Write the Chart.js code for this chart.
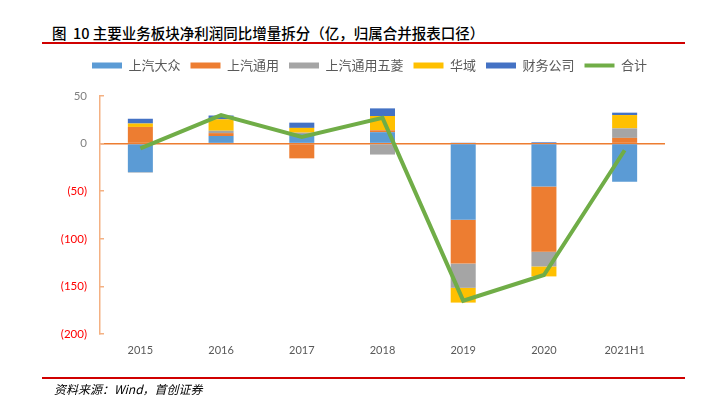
<!DOCTYPE html>
<html>
<head>
<meta charset="utf-8">
<script src="https://cdn.jsdelivr.net/npm/chart.js@4"></script>
<style>
  html, body { margin: 0; padding: 0; background: #fff; }
  #wrap { position: relative; width: 713px; height: 399px; overflow: hidden; }
  #c { position: absolute; left: 0; top: 0; }
  .title { position: absolute; left: 52px; top: 25px; font-family: "Noto Sans CJK SC", sans-serif; font-size: 14.5px; line-height: 16px; color: #000; font-weight: 500; white-space: nowrap; }
  .rule { position: absolute; left: 42px; width: 643px; height: 2px; background: #D00000; }
  .src { position: absolute; left: 54px; top: 382px; font-family: "Noto Sans CJK SC", serif; font-style: italic; font-size: 12px; line-height: 14px; color: #000; white-space: nowrap; }
</style>
</head>
<body>
<div id="wrap">
  <div class="title">图&nbsp;&nbsp;10 主要业务板块净利润同比增量拆分（亿，归属合并报表口径）</div>
  <div class="rule" style="top:42px"></div>
  <canvas id="c" width="713" height="399"></canvas>
  <div class="rule" style="top:377px"></div>
  <div class="src">资料来源：Wind，首创证券</div>
</div>
<script>
// ---- data ----
const categories = ['2015', '2016', '2017', '2018', '2019', '2020', '2021H1'];
const saicVW    = [-30, 8, 10, 12, -80, -45, -40];       // 上汽大众
const saicGM    = [17.5, 3, -15.5, 2, -46, -68.5, 6];    // 上汽通用
const sgmw      = [-0.5, 2.5, 1.5, -11.5, -25.5, -15.5, 10]; // 上汽通用五菱
const huayu     = [3.6, 12, 5, 15, -15.5, -10.5, 14];    // 华域
const finance   = [5, 4, 5.5, 8, 1, 1.5, 2.5];           // 财务公司
const total     = [-5, 30, 7, 27, -165, -138, -7];       // 合计
const yTicks    = [50, 0, -50, -100, -150, -200];

const seriesNames = ['上汽大众', '上汽通用', '上汽通用五菱', '华域', '财务公司', '合计'];
const colors = ['#5B9BD5', '#ED7D31', '#A5A5A5', '#FFC000', '#4472C4', '#70AD47'];

function barDs(i, data) {
  return {
    type: 'bar', label: seriesNames[i], data: data,
    backgroundColor: colors[i], borderWidth: 0,
    stack: 'bars', order: 1, pointStyle: 'rect',
    barPercentage: 0.31, categoryPercentage: 1
  };
}

const legendTweak = {
  id: 'legendTweak',
  beforeInit(chart) {
    const orig = chart.legend.fit;
    chart.legend.fit = function () { orig.call(this); this.height += 14; };
  },
  afterLayout(chart) {
    const lg = chart.legend;
    lg.left += 22; lg.right += 22;
  }
};

new Chart(document.getElementById('c'), {
  data: {
    labels: categories,
    datasets: [
      barDs(0, saicVW), barDs(1, saicGM), barDs(2, sgmw), barDs(3, huayu), barDs(4, finance),
      {
        type: 'line', label: seriesNames[5], data: total,
        borderColor: colors[5], backgroundColor: colors[5], borderWidth: 4,
        pointRadius: 0, pointHoverRadius: 0, pointStyle: 'line',
        stack: 'line', order: 0, tension: 0, fill: false
      }
    ]
  },
  options: {
    responsive: false, animation: false, devicePixelRatio: 1,
    layout: { padding: { left: 30, right: 48, top: 49, bottom: 35 } },
    plugins: {
      tooltip: { enabled: false },
      legend: {
        position: 'top',
        labels: {
          usePointStyle: true, pointStyleWidth: 30, boxHeight: 6,
          padding: 10, color: '#595959',
          font: { family: '"Noto Sans CJK SC", sans-serif', size: 13 },
          sort: (a, b) => a.datasetIndex - b.datasetIndex
        }
      }
    },
    scales: {
      x: {
        stacked: true,
        grid: { display: false, drawTicks: false },
        border: { display: false },
        ticks: { color: '#595959', padding: 10, font: { family: 'Lato, sans-serif', size: 11 } },
        afterFit(s) { s.height = 30; }
      },
      y: {
        stacked: true, min: -200, max: 50,
        afterBuildTicks(s) { s.ticks = yTicks.map(v => ({ value: v })); },
        grid: {
          drawTicks: true, tickLength: -4, tickColor: '#F4B183', tickWidth: 1.5,
          color: c => (c.tick && c.tick.value === 0) ? '#ED7D31' : 'rgba(0,0,0,0)',
          lineWidth: 1.5
        },
        border: { display: true, color: '#F4B183', width: 1.5 },
        ticks: {
          padding: 17,
          font: { family: 'Lato, sans-serif', size: 11.5 },
          color: c => (c.tick && c.tick.value < 0) ? '#FF0000' : '#808080',
          callback: v => v < 0 ? '(' + Math.abs(v) + ')' : String(v)
        },
        afterFit(s) { s.width = 70; }
      }
    }
  },
  plugins: [legendTweak]
});
</script>
</body>
</html>
